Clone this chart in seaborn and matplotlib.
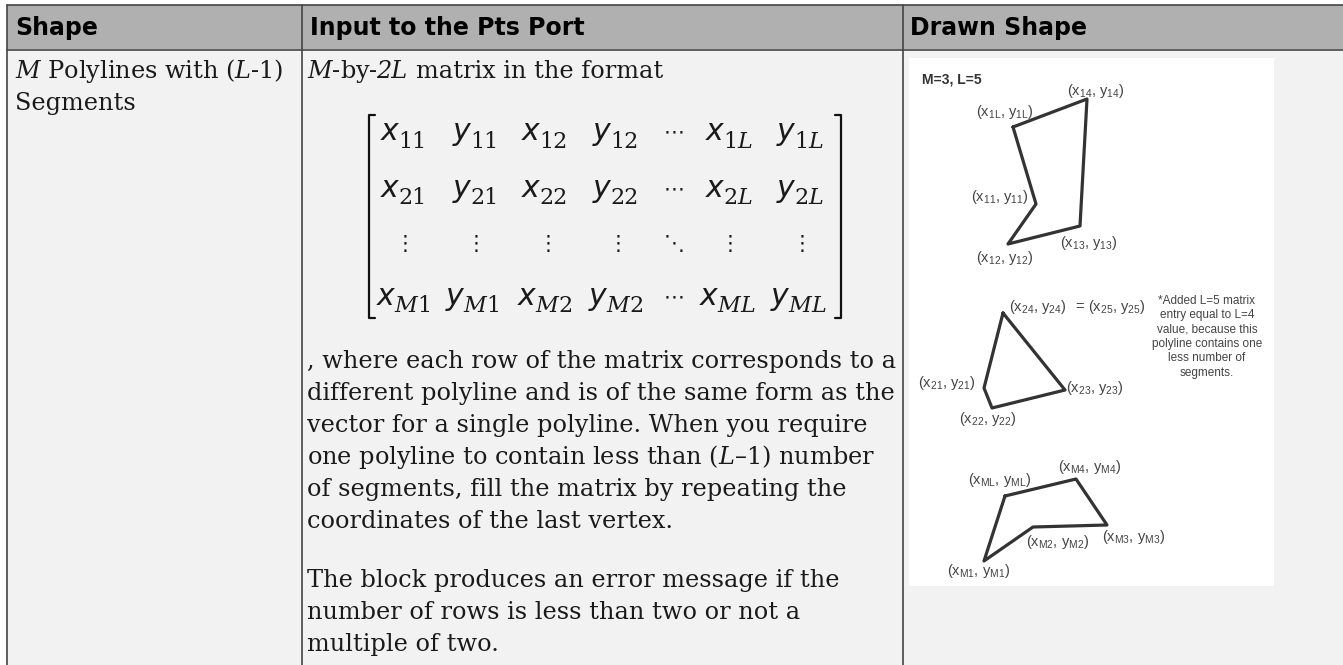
import seaborn as sns
import matplotlib
matplotlib.use("Agg")
import matplotlib.pyplot as plt
import pandas as pd

sns.set_theme(style="white")
plt.rcParams['font.family'] = ['DejaVu Serif']
plt.rcParams['mathtext.fontset'] = 'custom'
plt.rcParams['mathtext.rm'] = 'Liberation Sans'
plt.rcParams['mathtext.it'] = 'Liberation Sans'
plt.rcParams['mathtext.bf'] = 'Liberation Sans:bold'

# table text
headers = ["Shape", "Input to the Pts Port", "Drawn Shape"]
shape_lines = [r"$\mathit{M}$ Polylines with ($\mathit{L}$-1)", "Segments"]
body_lines = [", where each row of the matrix corresponds to a",
              "different polyline and is of the same form as the",
              "vector for a single polyline. When you require",
              "one polyline to contain less than ($\\mathit{L}$\u20131) number",
              "of segments, fill the matrix by repeating the",
              "coordinates of the last vertex."]
error_lines = ["The block produces an error message if the",
               "number of rows is less than two or not a",
               "multiple of two."]
body_y = [368, 400, 432, 464, 496, 528]
error_y = [587, 619, 651]

# matrix entries: base letter, subscript
L_sub = r"%s$\mathit{L}$"
M_sub = r"$\mathit{M}$%s"
matrix_rows = [[("x", "11"), ("y", "11"), ("x", "12"), ("y", "12"), None, ("x", L_sub % "1"), ("y", L_sub % "1")],
               [("x", "21"), ("y", "21"), ("x", "22"), ("y", "22"), None, ("x", L_sub % "2"), ("y", L_sub % "2")],
               [("x", M_sub % "1"), ("y", M_sub % "1"), ("x", M_sub % "2"), ("y", M_sub % "2"), None,
                ("x", r"$\mathit{ML}$"), ("y", r"$\mathit{ML}$")]]
matrix_cols = [[398, 470, 539, 610, 674, 723, 794],
               [398, 470, 539, 610, 674, 723, 794],
               [394, 463, 535, 606, 674, 717, 788]]
matrix_y = [140, 197, 305]
dot_cols = [405, 476, 548, 618, 674, 730, 802]

# polylines
poly1_x = [1013, 1087, 1080, 1008, 1036, 1013]
poly1_y = [127, 99, 226, 244, 204, 127]
poly2_x = [1003, 1065, 992, 984, 1003]
poly2_y = [313, 390, 408, 388, 313]
poly3_x = [1005, 1076, 1107, 1033, 984, 1005]
poly3_y = [496, 479, 525, 527, 561, 496]

# vertex labels: x centre, y centre, index
vertex_labels = [(1096, 91, "14"), (1005, 112, "1L"), (1000, 197, "11"), (1089, 243, "13"), (1005, 258, "12"),
                 (1038, 307, "24"), (1117, 307, "25"), (947, 383, "21"), (1095, 388, "23"), (988, 419, "22"),
                 (1090, 467, "M4"), (1000, 480, "ML"), (1058, 542, "M2"), (1134, 537, "M3"), (979, 571, "M1")]
note_lines = ["*Added L=5 matrix", "entry equal to L=4", "value, because this", "polyline contains one",
              "less number of", "segments."]
note_y = [301, 315, 329, 344, 358, 373]

fig, ax = plt.subplots(figsize=(13.43, 6.65), dpi=100)
fig.subplots_adjust(0, 0, 1, 1)
ax.set_xlim(0, 1343)
ax.set_ylim(665, 0)
ax.axis("off")

# cell backgrounds and grid
ax.fill_between([7, 1343], 49, 665, color="#f2f2f2", lw=0, zorder=0)
ax.fill_between([7, 1343], 5, 49, color="#b0b0b0", lw=0, zorder=0)
ax.fill_between([909, 1274], 58, 586, color="white", lw=0, zorder=1)
for x0 in [7, 302, 903]:
    ax.plot([x0, x0], [5, 665], color="#444444", lw=1.2, zorder=2)
for y0 in [5, 49.5]:
    ax.plot([7, 1343], [y0, y0], color="#444444", lw=1.2, zorder=2)

for label, x0 in zip(headers, [15, 310, 910]):
    ax.text(x0, 35, label, family="DejaVu Sans", weight="bold", fontsize=17, color="black", va="baseline")


def body_text(x0, y0, s, **kw):
    ax.text(x0, y0, s, fontsize=17.25, va="baseline", color="#1a1a1a", math_fontfamily="dejavuserif", **kw)


for line, y0 in zip(shape_lines, [78, 110]):
    body_text(15, y0, line)
body_text(307, 78, r"$\mathit{M}$-by-")
body_text(376, 78, "2L", style="italic")
body_text(416, 78, "matrix in the format")
for line, y0 in zip(body_lines, body_y):
    body_text(307, y0, line)
for line, y0 in zip(error_lines, error_y):
    body_text(307, y0, line)

# matrix
for row, cols, y0 in zip(matrix_rows, matrix_cols, matrix_y):
    for entry, x0 in zip(row, cols):
        if entry is None:
            ax.text(x0, y0 - 8, "\u22ef", family="DejaVu Sans", fontsize=15, ha="center", va="center", color="#1a1a1a")
            continue
        ax.text(x0, y0, entry[0], family="DejaVu Sans", style="italic", fontsize=21.5, ha="right", va="baseline", color="#1a1a1a")
        ax.text(x0, y0 + 7.5, entry[1], family="DejaVu Serif", math_fontfamily="dejavuserif",
                fontsize=16, ha="left", va="baseline", color="#1a1a1a")
for x0 in dot_cols:
    ax.text(x0, 244, "\u22ee" if x0 != 674 else "\u22f1", family="DejaVu Sans", fontsize=15,
            ha="center", va="center", color="#1a1a1a")
for x0, tick in [(369, 1), (841, -1)]:
    ax.plot([x0 + 6 * tick, x0, x0, x0 + 6 * tick], [115, 115, 318, 318], color="#111111", lw=1.6, zorder=3)

# drawn shape polylines
for xs, ys in [(poly1_x, poly1_y), (poly2_x, poly2_y), (poly3_x, poly3_y)]:
    df = pd.DataFrame({"x": xs, "y": ys})
    sns.lineplot(data=df, x="x", y="y", sort=False, estimator=None, color="#333333", linewidth=2.3, ax=ax, zorder=4)
ax.set_xlim(0, 1343)
ax.set_ylim(665, 0)
ax.axis("off")

ax.text(922, 79, "M=3, L=5", family="Liberation Sans", weight="bold", fontsize=10, color="#333333", va="center")
for x0, y0, idx in vertex_labels:
    ax.text(x0, y0, "(x$_{%s}$, y$_{%s}$)" % (idx, idx), family="Liberation Sans", fontsize=10.5, ha="center", va="center", color="#444444")
ax.text(1080, 307, "=", family="Liberation Sans", fontsize=10.5, ha="center", va="center", color="#444444")
for line, y0 in zip(note_lines, note_y):
    ax.text(1207, y0, line, family="Liberation Sans", fontsize=8.5, ha="center", va="center", color="#444444")

fig.savefig("out.png", dpi=100)
